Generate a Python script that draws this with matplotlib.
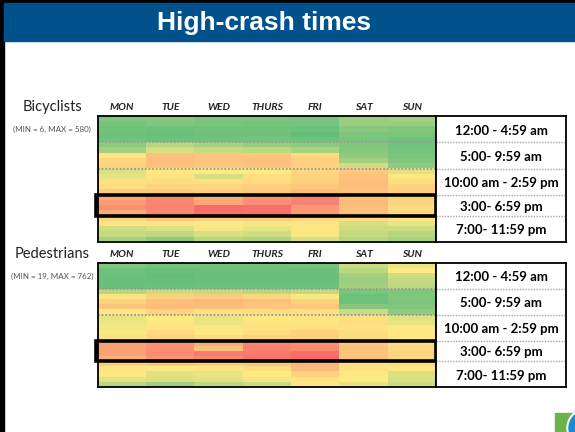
import numpy as np
import matplotlib.pyplot as plt
from matplotlib.colors import LinearSegmentedColormap, TwoSlopeNorm
from matplotlib.patches import Rectangle, Circle

# Datos del grafico
days = ['MON', 'TUE', 'WED', 'THURS', 'FRI', 'SAT', 'SUN']
time_groups = ['12:00 - 4:59 am', '5:00- 9:59 am', '10:00 am - 2:59 pm',
               '3:00- 6:59 pm', '7:00- 11:59 pm']
group_hours = [5, 5, 5, 4, 5]

# conteos por hora (filas 0..23) y dia (MON..SUN)
bike_counts = [
    [45, 50, 40, 40, 35, 80, 85],
    [30, 45, 35, 30, 30, 75, 80],
    [25, 20, 25, 25, 20, 55, 45],
    [20, 15, 20, 20, 6, 40, 35],
    [25, 20, 25, 30, 25, 35, 25],
    [60, 110, 90, 70, 60, 45, 25],
    [85, 150, 130, 120, 95, 50, 30],
    [220, 320, 300, 300, 250, 60, 35],
    [260, 330, 310, 320, 280, 85, 45],
    [270, 320, 300, 310, 280, 140, 60],
    [160, 210, 200, 200, 260, 300, 165],
    [170, 220, 150, 230, 270, 320, 210],
    [230, 240, 230, 250, 280, 330, 230],
    [240, 260, 260, 280, 300, 330, 270],
    [290, 290, 280, 290, 330, 320, 280],
    [400, 480, 380, 460, 500, 330, 280],
    [430, 490, 400, 470, 500, 340, 270],
    [470, 500, 580, 560, 440, 330, 250],
    [380, 480, 560, 550, 430, 320, 250],
    [260, 300, 280, 280, 260, 250, 220],
    [220, 210, 200, 220, 220, 150, 170],
    [140, 160, 190, 170, 210, 140, 140],
    [130, 120, 150, 140, 190, 130, 110],
    [90, 60, 110, 100, 150, 110, 90],
]
ped_counts = [
    [70, 50, 45, 45, 50, 200, 260],
    [40, 30, 35, 35, 35, 170, 290],
    [35, 19, 30, 30, 30, 130, 210],
    [30, 25, 30, 30, 30, 120, 190],
    [35, 35, 40, 40, 40, 130, 180],
    [170, 200, 190, 170, 190, 60, 70],
    [310, 380, 400, 370, 280, 40, 70],
    [380, 440, 470, 440, 380, 35, 65],
    [420, 460, 450, 430, 410, 80, 70],
    [300, 370, 320, 340, 330, 200, 100],
    [250, 290, 250, 300, 310, 330, 240],
    [260, 300, 260, 310, 310, 340, 250],
    [270, 310, 280, 320, 330, 320, 300],
    [280, 350, 300, 340, 380, 340, 300],
    [320, 370, 340, 380, 390, 350, 300],
    [560, 610, 520, 650, 620, 430, 340],
    [560, 620, 440, 680, 640, 440, 360],
    [550, 630, 700, 700, 740, 430, 370],
    [500, 600, 650, 720, 762, 440, 360],
    [390, 420, 400, 420, 480, 330, 340],
    [310, 300, 310, 330, 460, 320, 300],
    [300, 240, 250, 290, 380, 300, 230],
    [240, 230, 240, 270, 320, 290, 220],
    [170, 130, 180, 200, 300, 250, 200],
]
bike_mid = 200
ped_mid = 290

W, H = 575, 432
fig = plt.figure(figsize=(W / 100, H / 100), dpi=100)
fig.patch.set_facecolor('white')

# escala de color tipo Excel (verde - amarillo - rojo)
cmap = LinearSegmentedColormap.from_list('gyr', ['#63BE7B', '#FFEB84', '#F8696B'])


def px_axes(x0, y0, x1, y1):
    return fig.add_axes([x0 / W, 1 - y1 / H, (x1 - x0) / W, (y1 - y0) / H])


# fondo: barra de titulo, borde y logo
bg = px_axes(0, 0, W, H)
bg.set_xlim(0, W)
bg.set_ylim(H, 0)
bg.axis('off')
bg.add_patch(Rectangle((0, 0), W, 3, color='black'))
bg.add_patch(Rectangle((0, 0), 4, H, color='black'))
bg.add_patch(Rectangle((4, 3), W - 4, 38, color='#01528C'))
bg.text(264, 23, 'High-crash times', color='white', fontsize=19, fontweight='bold',
        family='Liberation Sans', ha='center', va='center')
logo = Rectangle((555, 413), 20, 19, color='#6DB34A')
bg.add_patch(logo)
ring = Circle((586, 428), 19, color='white')
disc = Circle((586, 428), 17, color='#1C8AD0')
for c in (ring, disc):
    bg.add_patch(c)
    c.set_clip_path(logo)

font = 'Lato'


def draw_panel(counts, vmin, vmid, vmax, top, bottom, name, range_txt):
    data = np.array(counts)
    norm = TwoSlopeNorm(vmin=vmin, vcenter=vmid, vmax=vmax)
    ax = px_axes(98, top, 436, bottom)
    ax.imshow(data, cmap=cmap, norm=norm, aspect='auto',
              extent=(0, len(days), data.shape[0], 0), interpolation='nearest')
    ax.xaxis.tick_top()
    ax.set_xticks(np.arange(len(days)) + 0.5, days)
    ax.tick_params(axis='x', length=0, pad=3)
    for lab in ax.get_xticklabels():
        lab.set_family(font)
        lab.set_fontsize(7.5)
        lab.set_fontweight('bold')
        lab.set_fontstyle('italic')
        lab.set_color('#222222')
    ax.set_yticks([])
    for sp in ax.spines.values():
        sp.set_linewidth(1.3)

    bounds = np.cumsum(group_hours)
    for b in bounds[:2]:
        ax.axhline(b, color='#9A9A9A', lw=1.3, ls=(0, (1, 1)))
    # caja resaltada 3:00-6:59 pm
    ax.add_patch(Rectangle((-0.04, bounds[2]), len(days) + 0.04, group_hours[3],
                           fill=False, ec='black', lw=2.6, clip_on=False))

    lab_ax = px_axes(436, top, 566, bottom)
    lab_ax.set_xlim(0, 1)
    lab_ax.set_ylim(bounds[-1], 0)
    lab_ax.set_xticks([])
    lab_ax.set_yticks([])
    for sp in lab_ax.spines.values():
        sp.set_linewidth(1.3)
    starts = np.concatenate([[0], bounds[:-1]])
    for s, n, txt in zip(starts, group_hours, time_groups):
        lab_ax.text(0.5, s + n / 2 + 0.3, txt, ha='center', va='center',
                    family=font, fontsize=9.5, fontweight='bold', color='black')
    for b in bounds[:-1]:
        lab_ax.axhline(b, color='#A8A8A8', lw=1.0, ls=(0, (1, 1)))

    fig.text(52 / W, 1 - (top - 9) / H, name, ha='center', va='center',
             family=font, fontsize=10.5, color='#222222')
    fig.text(52 / W, 1 - (top + 13) / H, range_txt, ha='center', va='center',
             family=font, fontsize=5.8, color='#555555')


draw_panel(bike_counts, 6, bike_mid, 580, 116, 242, 'Bicyclists', '(MIN = 6, MAX = 580)')
draw_panel(ped_counts, 19, ped_mid, 762, 263, 387, 'Pedestrians', '(MIN = 19, MAX = 762)')

plt.savefig('out.png', dpi=100)
